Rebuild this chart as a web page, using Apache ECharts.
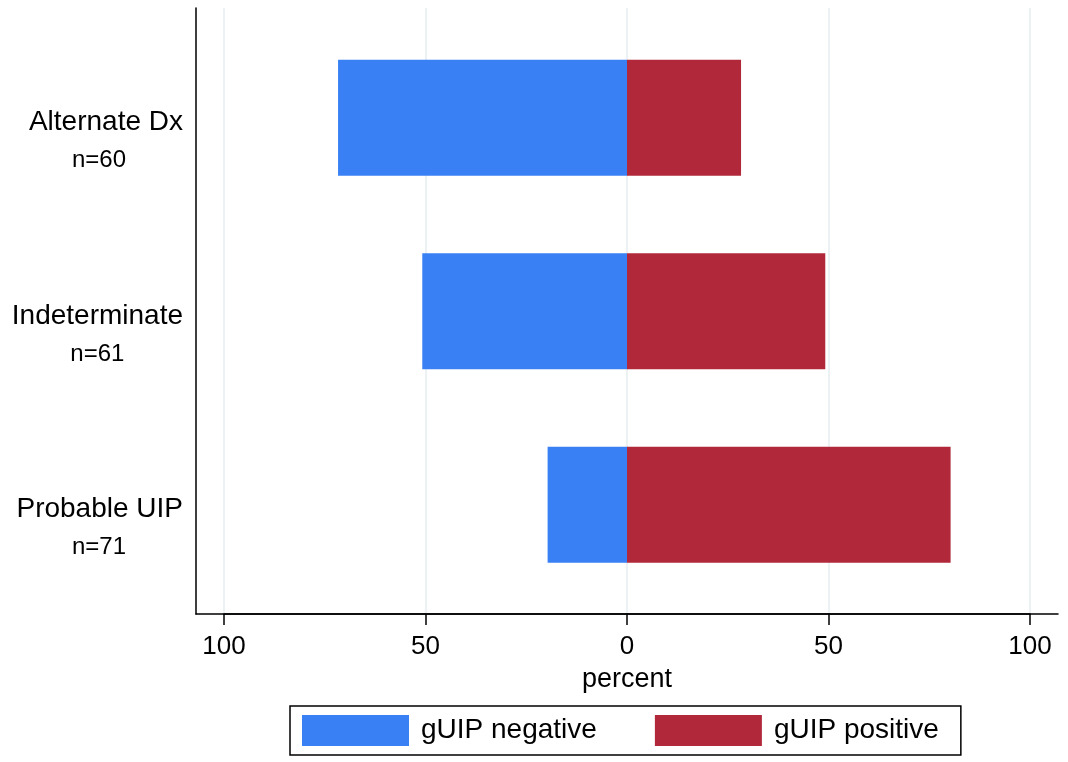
<!DOCTYPE html>
<html>
<head>
<meta charset="utf-8">
<script src="https://cdn.jsdelivr.net/npm/echarts@6/dist/echarts.min.js"></script>
<style>
html,body{margin:0;padding:0;background:#fff;}
#chart{width:1068px;height:762px;}
</style>
</head>
<body>
<div id="chart"></div>
<script>
const categories = ['Alternate Dx', 'Indeterminate', 'Probable UIP'];
const counts = ['n=60', 'n=61', 'n=71'];
const negativePct = [71.7, 50.8, 19.7];
const positivePct = [28.3, 49.2, 80.3];
const tickValues = [-100, -50, 0, 50, 100];
const seriesNames = ['gUIP negative', 'gUIP positive'];

const FONT = '"Liberation Sans", Arial, Helvetica, sans-serif';
const BLUE = '#3980F5';
const RED = '#B0283A';

const chart = echarts.init(document.getElementById('chart'));
const catLabels = categories.map((c, i) => c + '|' + counts[i]);

chart.setOption({
  animation: false,
  backgroundColor: '#fff',
  textStyle: { fontFamily: FONT, color: '#000' },
  grid: [
    { left: 196, right: 10, top: 8, bottom: 148 },
    { left: 224, right: 38, top: 8, bottom: 148 },
    { left: 224, right: 38, top: 21, bottom: 160.5 }
  ],
  legend: {
    data: seriesNames,
    left: 290, top: 706,
    orient: 'horizontal',
    itemWidth: 107, itemHeight: 31,
    itemGap: 58,
    padding: [9, 22, 9, 12],
    borderColor: '#000', borderWidth: 1.5,
    icon: 'rect',
    textStyle: { fontSize: 28, color: '#000', fontFamily: FONT, padding: [0, 0, 0, 7] }
  },
  xAxis: [
    {
      gridIndex: 0, type: 'value', min: -107, max: 107, position: 'bottom',
      axisLine: { show: true, onZero: false, lineStyle: { color: '#000', width: 1.5 } },
      axisTick: { show: false }, axisLabel: { show: false }, splitLine: { show: false }
    },
    {
      gridIndex: 1, type: 'value', min: -100, max: 100, interval: 50, position: 'bottom',
      axisLine: { show: true, onZero: false, lineStyle: { color: '#000', width: 1.5 } },
      axisTick: { show: true, inside: false, length: 11, lineStyle: { color: '#000', width: 1.5 } },
      axisLabel: {
        show: true, fontSize: 26, color: '#000', margin: 20, fontFamily: FONT,
        formatter: v => String(Math.abs(v))
      },
      splitLine: { show: true, lineStyle: { color: '#E6EEF1', width: 1.5 } },
      name: 'percent', nameLocation: 'middle', nameGap: 52,
      nameTextStyle: { fontSize: 27, color: '#000', fontFamily: FONT }
    },
    {
      gridIndex: 2, type: 'value', min: -100, max: 100, show: false
    }
  ],
  yAxis: [
    {
      gridIndex: 0, type: 'value', min: 0, max: 1, position: 'left',
      axisLine: { show: true, onZero: false, lineStyle: { color: '#000', width: 1.5 } },
      axisTick: { show: false }, axisLabel: { show: false }, splitLine: { show: false }
    },
    { gridIndex: 1, type: 'value', min: 0, max: 1, show: false },
    {
      gridIndex: 2, type: 'category', data: catLabels, inverse: true,
      axisLine: { show: false }, axisTick: { show: false }, splitLine: { show: false },
      axisLabel: {
        margin: 41,
        padding: [50, 0, 0, 0],
        formatter: v => {
          const p = v.split('|');
          return '{a|' + p[0] + '}\n{b|' + p[1] + '}';
        },
        rich: {
          a: { fontSize: 28, lineHeight: 36, align: 'right', color: '#000', fontFamily: FONT },
          b: { fontSize: 24, lineHeight: 40, width: 168, align: 'center', color: '#000', fontFamily: FONT }
        }
      }
    }
  ],
  series: [
    {
      name: seriesNames[0], type: 'bar', xAxisIndex: 2, yAxisIndex: 2,
      data: negativePct.map(v => -v), barWidth: 116, barGap: '-100%',
      itemStyle: { color: BLUE }
    },
    {
      name: seriesNames[1], type: 'bar', xAxisIndex: 2, yAxisIndex: 2,
      data: positivePct, barWidth: 116,
      itemStyle: { color: RED }
    }
  ]
});
</script>
</body>
</html>
